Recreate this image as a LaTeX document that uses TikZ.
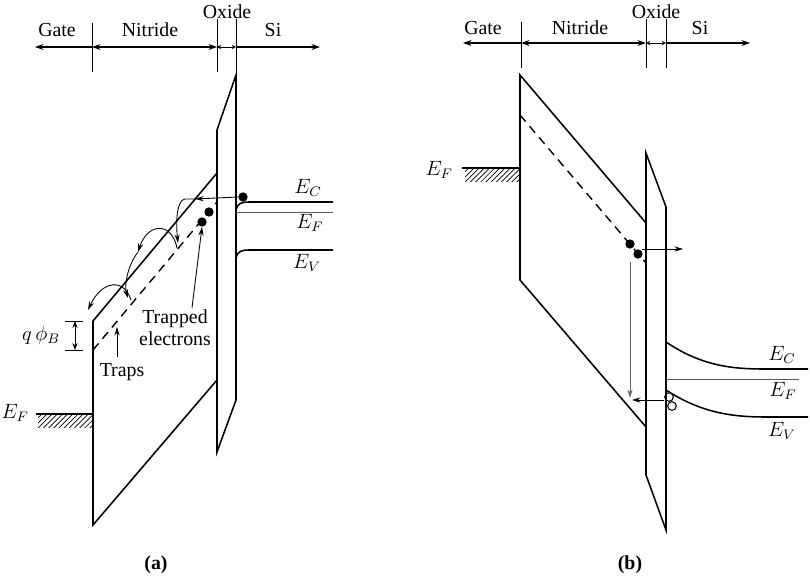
\documentclass[tikz,border=0pt]{standalone}
\usepackage{fontspec}
\setmainfont{Liberation Serif}
\usepackage{tikz}
\usetikzlibrary{
  arrows.meta,
  calc,
  patterns,
}

\begin{document}
\begin{tikzpicture}[x=0.58pt, y=-0.58pt, font=\fontsize{11.5}{13}\selectfont,
    band/.style={line width=0.9pt},
    trapline/.style={line width=0.8pt, dash pattern=on 5pt off 3.5pt},
    level/.style={line width=0.5pt, draw=black!65},
    tick/.style={line width=0.4pt},
    span/.style={line width=0.6pt, {Stealth[length=5pt,width=3.5pt]}-{Stealth[length=5pt,width=3.5pt]}},
    spanl/.style={line width=0.6pt, {Stealth[length=5pt,width=3.5pt]}-},
    spanr/.style={line width=0.6pt, -{Stealth[length=5pt,width=3.5pt]}},
    spanox/.style={line width=0.5pt, {Stealth[length=2.5pt,width=2.5pt]}-{Stealth[length=2.5pt,width=2.5pt]}},
    ptr/.style={line width=0.5pt, -{Stealth[length=5pt,width=3pt]}},
    elec/.style={circle, fill, inner sep=0pt, minimum size=5.4pt},
    hole/.style={circle, draw, line width=0.6pt, inner sep=0pt, minimum size=5pt},
    hatch/.style={pattern=north east lines},
  ]
  \useasboundingbox (0,0) rectangle (810,580);

  % ---------------- (a) ----------------
  \node (gateA) at (57,30)  {Gate};
  \node (nitA)  at (150,30) {Nitride};
  \node (oxA)   at (227,12) {Oxide};
  \node (siA)   at (273,30) {Si};
  \draw[tick] (92,23) -- (92,72) (217,19) -- (217,72) (236,19) -- (236,72);
  \draw[spanl] (35,47) -- (92,47);
  \draw[span] (92,47) -- (217,47);
  \draw[spanox] (217,47) -- (236,47);
  \draw[spanr] (236,47) -- (320,47);

  % nitride and oxide
  \draw[band] (217,173) -- (93,321) -- (93,525) -- (217,380);
  \draw[band] (217,130) -- (236,75) -- (236,400) -- (217,452) -- cycle;
  \draw[trapline] (93,350) -- (217,202);

  % gate Fermi level
  \fill[hatch] (38,414) rectangle (93,428);
  \draw[band] (36,414) -- (93,414);
  \node[anchor=east] (efgA) at (35,413) {$E_F$};

  % silicon bands
  \draw[band] (236,210) .. controls (238,203) and (241,202) .. (250,202) -- (333,202);
  \draw[level] (236,212) -- (333,212);
  \draw[band] (236,258) .. controls (238,251) and (241,250) .. (250,250) -- (333,250);
  \node (ecA) at (308,188) {$E_C$};
  \node (efA) at (310,223) {$E_F$};
  \node (evA) at (307,263) {$E_V$};

  % barrier height
  \draw[tick] (65,321) -- (83,321) (65,350) -- (83,350);
  \draw[ptr, {Stealth[length=4pt,width=3pt]}-{Stealth[length=4pt,width=3pt]}] (75,321) -- (75,350);
  \node[anchor=east] (phiB) at (66,335) {$q\,\phi_B$};

  % electrons
  \node[elec] (e1) at (202,222) {};
  \node[elec] (e2) at (209,212) {};
  \node[elec] (eSi) at (243,197) {};

  % hopping
  \coordinate (cb) at (195,199);
  \coordinate (t1) at (178,243);
  \coordinate (c1) at (138,252);
  \coordinate (t2) at (128,298);
  \coordinate (c2) at (88,310);
  \draw[ptr] (eSi.west) -- (cb);
  \draw[ptr] (cb) -- (185,199) .. controls (176,200) and (176,225) .. (t1);
  \draw[ptr] (177,248) .. controls (172,222) and (148,222) .. (c1);
  \draw[ptr] (c1) .. controls (128,265) and (124,285) .. (t2);
  \draw[ptr] (131,300) .. controls (124,278) and (102,280) .. (c2);

  % labels
  \node (traps) at (122,372) {Traps};
  \draw[ptr] (traps.north -| 117,0) -- (117,327);
  \node[align=center, inner sep=1pt] (trapped) at (175,328) {Trapped\\electrons};
  \draw[ptr] ($(trapped.north)+(17,0)$) -- (e1.south);

  \node[font=\fontsize{11.5}{13}\selectfont\bfseries] (capA) at (156,565) {(a)};

  % ---------------- (b) ----------------
  \node (gateB) at (483,28) {Gate};
  \node (nitB)  at (580,28) {Nitride};
  \node (oxB)   at (656,12) {Oxide};
  \node (siB)   at (700,28) {Si};
  \draw[tick] (521,22) -- (521,68) (646,19) -- (646,68) (666,19) -- (666,68);
  \draw[spanl] (463,43) -- (521,43);
  \draw[span] (521,43) -- (646,43);
  \draw[spanox] (646,43) -- (666,43);
  \draw[spanr] (666,43) -- (750,43);

  % nitride and oxide
  \draw[band] (646,223) -- (520,75) -- (520,280) -- (646,427);
  \draw[band] (646,153) -- (666,207) -- (666,530) -- (646,475) -- cycle;
  \draw[trapline] (520,115) -- (646,263);

  % gate Fermi level
  \fill[hatch] (465,168) rectangle (520,182);
  \draw[band] (462,168) -- (520,168);
  \node[anchor=east] (efgB) at (459,170) {$E_F$};

  % silicon bands
  \draw[band] (666,342) .. controls (700,365) and (730,369) .. (763,369) -- (808,369);
  \draw[level] (666,379) -- (799,379);
  \draw[band] (666,390) .. controls (700,412) and (730,417) .. (765,417) -- (808,417);
  \node (ecB) at (782,355) {$E_C$};
  \node (efB) at (783,391) {$E_F$};
  \node (evB) at (782,431) {$E_V$};

  % carriers
  \node[elec] (e3) at (630,244) {};
  \node[elec] (e4) at (638,254) {};
  \node[hole] (h1) at (669,397) {};
  \node[hole] (h2) at (672,406) {};
  \coordinate (outR) at (683,249);
  \coordinate (dropB) at (630,398);
  \coordinate (holeL) at (632,400);
  \draw[ptr] (e4.north east |- outR) -- (outR);
  \draw[ptr, draw=black!60] (630,262) -- (dropB);
  \draw[ptr] (h1.west |- holeL) -- (holeL);

  \node[font=\fontsize{11.5}{13}\selectfont\bfseries] (capB) at (630,565) {(b)};
\end{tikzpicture}
\end{document}
